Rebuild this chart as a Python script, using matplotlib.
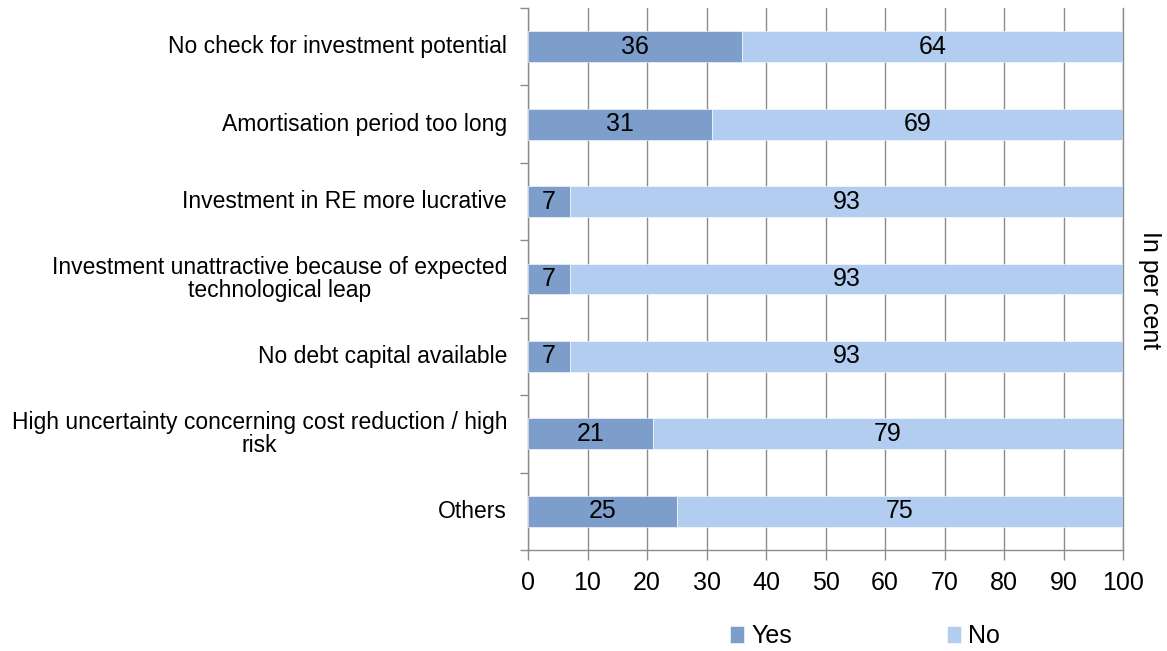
import matplotlib
matplotlib.use("Agg")
import matplotlib.pyplot as plt
import numpy as np

plt.rcParams['font.family'] = ['Liberation Sans', 'DejaVu Sans']

categories = [
    "No check for investment potential",
    "Amortisation period too long",
    "Investment in RE more lucrative",
    "Investment unattractive because of expected\ntechnological leap",
    "No debt capital available",
    "High uncertainty concerning cost reduction / high\nrisk",
    "Others",
]
yes_vals = [36, 31, 7, 7, 7, 21, 25]
no_vals = [64, 69, 93, 93, 93, 79, 75]
x_ticks = [0, 10, 20, 30, 40, 50, 60, 70, 80, 90, 100]

c_yes = "#7d9dcb"
c_no = "#b3cdf1"
gray = "#8c8c8c"

fig = plt.figure(figsize=(11.67, 6.51), dpi=100)
ax = fig.add_axes([528/1167, 1-550/651, (1123-528)/1167, (550-8)/651])

n = len(categories)
y = np.arange(n)
h = 0.4
ax.barh(y, yes_vals, height=h, color=c_yes, edgecolor="white", linewidth=0.4, zorder=3, label="Yes")
ax.barh(y, no_vals, left=yes_vals, height=h, color=c_no, edgecolor="white", linewidth=0.4, zorder=3, label="No")

for i in range(n):
    ax.text(yes_vals[i]/2, y[i], str(yes_vals[i]), ha="center", va="center", fontsize=18, zorder=4)
    ax.text(yes_vals[i] + no_vals[i]/2, y[i], str(no_vals[i]), ha="center", va="center", fontsize=18, zorder=4)

ax.set_ylim(n-0.5, -0.5)
ax.set_xlim(0, 100)
ax.set_xticks(x_ticks)
ax.set_xticklabels([str(t) for t in x_ticks], fontsize=18)
ax.tick_params(axis="x", direction="out", length=7, color=gray, width=1, pad=8)

ax.set_yticks(np.arange(-0.5, n, 1.0))
ax.set_yticklabels([])
ax.tick_params(axis="y", direction="out", length=6, color=gray, width=1)
for i, c in enumerate(categories):
    ax.text(-0.035, y[i], c, transform=ax.get_yaxis_transform(), ha="right", va="center",
            multialignment="center", fontsize=16.5, linespacing=1.03)

ax.grid(axis="x", color=gray, linewidth=1, zorder=0)
ax.set_axisbelow(True)
ax.spines["top"].set_visible(False)
for s in ["left", "bottom", "right"]:
    ax.spines[s].set_color(gray)
    ax.spines[s].set_linewidth(1)
ax.spines["right"].set_zorder(0.5)

fig.text(1150/1167, 1-290/651, "In per cent", rotation=-90, ha="center", va="center", fontsize=18)

handles, labels = ax.get_legend_handles_labels()
leg = fig.legend(handles, labels, loc="center", bbox_to_anchor=(865/1167, 1-636/651), ncol=2,
                 frameon=False, fontsize=18, handlelength=0.55, handleheight=0.7,
                 handletextpad=0.3, columnspacing=6.2)

fig.savefig("out.png", dpi=100)
